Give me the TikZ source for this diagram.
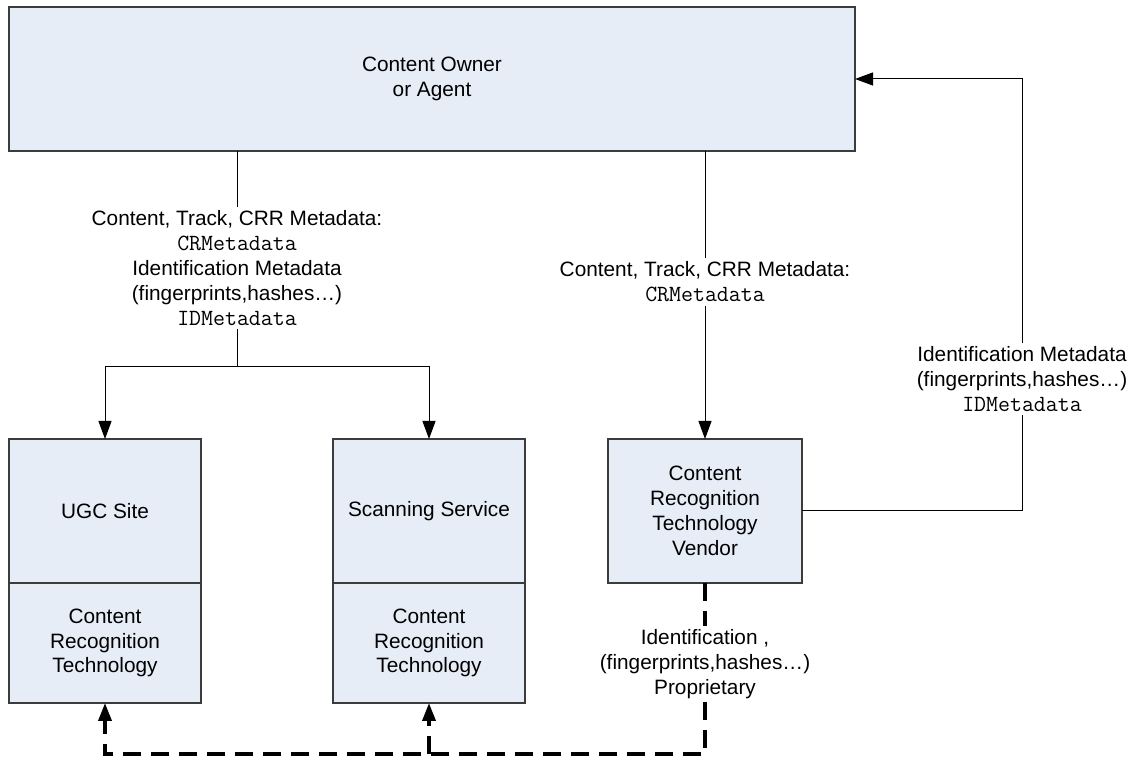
\documentclass[tikz,border=0pt]{standalone}
\usepackage{fontspec}
\setmainfont{Liberation Sans}
\usetikzlibrary{positioning,arrows.meta}
\definecolor{boxfill}{RGB}{230,237,247}
\definecolor{boxline}{RGB}{60,60,60}
\newcommand{\idname}[1]{{\fontsize{11.6pt}{12.6pt}\selectfont\ttfamily #1}}
\tikzset{
  block/.style={draw=boxline, fill=boxfill, line width=0.6pt, inner sep=2pt,
    outer sep=0pt, align=center, font=\fontsize{10.4pt}{12.4pt}\selectfont},
  flowlabel/.style={inner sep=1.5pt, align=center,
    font=\fontsize{10.4pt}{12.6pt}\selectfont},
  flow/.style={line width=0.5pt, -{Triangle[length=9pt,width=6.5pt]}},
  idflow/.style={line width=1.8pt, dash pattern=on 9pt off 5pt,
    -{Triangle[length=9pt,width=6.5pt]}}
}

\begin{document}
\begin{tikzpicture}[x=0.5pt, y=0.5pt]
    \useasboundingbox (0,0) rectangle (1133,759);

    \node[block, minimum width=423pt, minimum height=72pt] (owner) at (432,680)
      {Content Owner\\or Agent};

    \node[block, minimum width=96pt, minimum height=72pt] (ugc) at (105,248) {UGC Site};
    \node[block, minimum width=96pt, minimum height=60pt, below=0pt of ugc] (ugccrt)
      {Content\\Recognition\\Technology};
    \node[block, minimum width=96pt, minimum height=72pt] (scan) at (429,248)
      {Scanning Service};
    \node[block, minimum width=96pt, minimum height=60pt, below=0pt of scan] (scancrt)
      {Content\\Recognition\\Technology};
    \node[block, minimum width=97pt, minimum height=72pt] (vendor) at (705,248)
      {Content\\Recognition\\Technology\\Vendor};

    \node[flowlabel] (lblL) at (237,491) {Content, Track, CRR Metadata:\\\idname{CRMetadata}\\
      Identification Metadata\\(fingerprints,hashes…)\\\idname{IDMetadata}};
    \node[flowlabel] (lblM) at (705,477) {Content, Track, CRR Metadata:\\\idname{CRMetadata}};
    \node[flowlabel] (lblR) at (1022,380)
      {Identification Metadata\\(fingerprints,hashes…)\\\idname{IDMetadata}};
    \node[flowlabel] (lblD) at (705,95)
      {Identification ,\\(fingerprints,hashes…)\\Proprietary};

    % owner to the sites
    \coordinate (split) at (237,392);
    \draw[line width=0.5pt] (lblL.north) -- (lblL.north |- owner.south);
    \draw[line width=0.5pt] (lblL.south) -- (split);
    \draw[flow] (split) -| (ugc.north);
    \draw[flow] (split) -| (scan.north);

    % owner to vendor and back
    \draw[line width=0.5pt] (lblM.north) -- (lblM.north |- owner.south);
    \draw[flow] (lblM.south) -- (vendor.north);
    \draw[line width=0.5pt] (vendor.east) -| (lblR.south);
    \draw[flow] (lblR.north) |- (owner.east);

    % proprietary ids
    \coordinate (idcorner) at (705,5);
    \draw[idflow, -] (vendor.south) -- (lblD.north);
    \draw[idflow] (lblD.south) -- (idcorner) -| (ugccrt.south);
    \draw[idflow] (scancrt.south |- idcorner) -- (scancrt.south);
\end{tikzpicture}
\end{document}
